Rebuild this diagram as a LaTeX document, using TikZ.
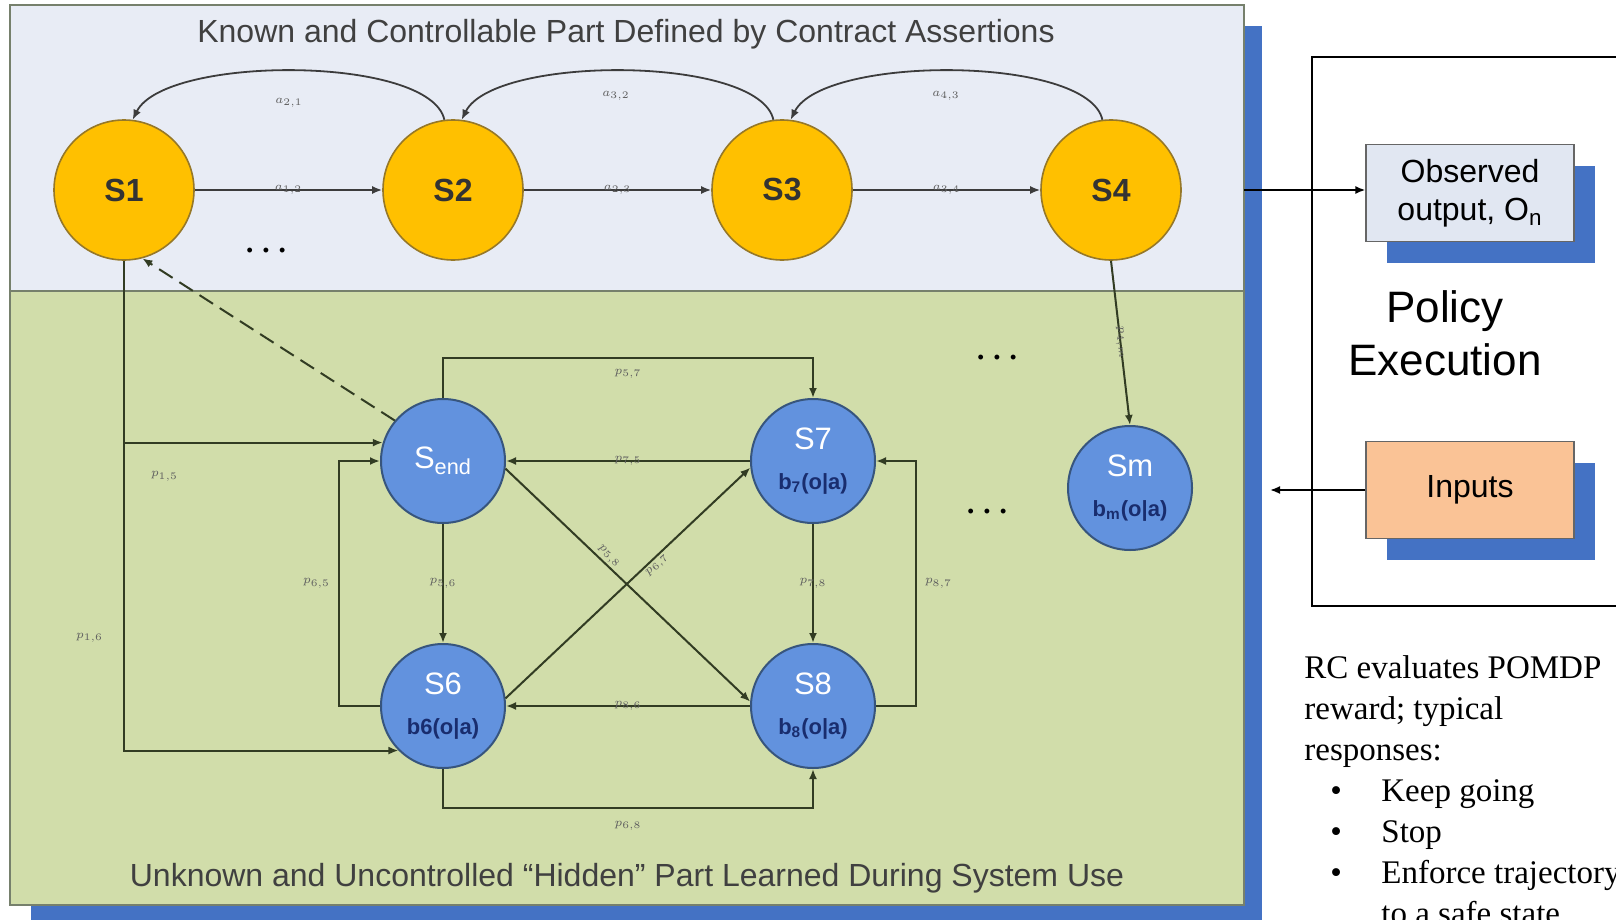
\documentclass[tikz,border=0pt]{standalone}
\usepackage{fontspec}
\setmainfont{Liberation Sans}
\newfontfamily\rcfont{Liberation Serif}
\usetikzlibrary{arrows.meta,positioning,shadows}

\definecolor{knownfill}{RGB}{232,236,245}
\definecolor{hiddenfill}{RGB}{209,221,170}
\definecolor{panelline}{RGB}{118,128,108}
\definecolor{shadowblue}{RGB}{68,114,196}
\definecolor{stateyellow}{RGB}{255,192,0}
\definecolor{yellowline}{RGB}{150,120,40}
\definecolor{stateblue}{RGB}{98,146,222}
\definecolor{blueline}{RGB}{55,85,125}
\definecolor{beliefblue}{RGB}{25,45,110}
\definecolor{arcline}{RGB}{60,60,60}
\definecolor{hiddenline}{RGB}{50,60,35}
\definecolor{obsfill}{RGB}{225,231,242}
\definecolor{inpfill}{RGB}{250,195,150}
\definecolor{lblgray}{RGB}{95,95,95}

\newcommand{\belief}[1]{{\fontsize{11}{11}\selectfont\bfseries\color{beliefblue}#1}}

\begin{document}
\begin{tikzpicture}[x=0.5pt,y=-0.5pt,
  known/.style={circle,draw=yellowline,line width=0.8pt,fill=stateyellow,
    minimum size=70pt,inner sep=0pt,font=\fontsize{16}{16}\selectfont\bfseries,text=black!80},
  hidden/.style={circle,draw=blueline,line width=1pt,fill=stateblue,
    minimum size=62pt,inner sep=0pt,align=center,text=white,font=\fontsize{15.5}{17}\selectfont},
  ktrans/.style={-{Latex[length=5pt,width=4pt]},line width=0.9pt,draw=arcline},
  htrans/.style={-{Latex[length=5pt,width=4pt]},line width=1pt,draw=hiddenline},
  elab/.style={font=\fontsize{6}{6}\selectfont,text=lblgray,inner sep=1pt},
  pbox/.style={draw=gray!80!black,line width=0.6pt,minimum width=104pt,minimum height=48.5pt,
    align=center,font=\fontsize{16}{19}\selectfont,
    drop shadow={shadow xshift=10.5pt,shadow yshift=-10.5pt,fill=shadowblue,opacity=1}},
  dots/.style={font=\fontsize{9}{9}\selectfont,inner sep=0pt},
  rctext/.style={anchor=base west,inner sep=0pt,font=\rcfont\fontsize{16.5}{20}\selectfont}
]
\useasboundingbox (0,0) rectangle (1616,920);
\clip (0,0) rectangle (1616,920);
\fill[white] (0,0) rectangle (1616,920);

% panels
\fill[shadowblue] (31,26) rectangle (1262,925);
\draw[panelline,fill=knownfill,line width=1pt] (10,5) rectangle (1244,291);
\draw[panelline,fill=hiddenfill,line width=1.2pt] (10,291) rectangle (1244,905);
\node[font=\fontsize{16}{16}\selectfont,text=black!75] (ktitle) at (626,34)
  {Known and Controllable Part Defined by Contract Assertions};
\node[font=\fontsize{16}{16}\selectfont,text=black!75] (htitle) at (627,878)
  {Unknown and Uncontrolled ``Hidden'' Part Learned During System Use};

% known states
\node[known] (s1) at (124,190) {S1};
\node[known] (s2) at (453,190) {S2};
\node[known] (s3) at (782,190) {S3};
\node[known] (s4) at (1111,190) {S4};
\draw[ktrans] (s1) -- node[elab] (a12) {\(a_{1,2}\)} (s2);
\draw[ktrans] (s2) -- node[elab] (a23) {\(a_{2,3}\)} (s3);
\draw[ktrans] (s3) -- node[elab] (a34) {\(a_{3,4}\)} (s4);
\draw[ktrans] (s2.97) .. controls (430,55) and (165,55) .. (s1.83);
\draw[ktrans] (s3.97) .. controls (759,55) and (494,55) .. (s2.83);
\draw[ktrans] (s4.97) .. controls (1088,55) and (823,55) .. (s3.83);
\node[elab] (a21) at (289,103) {\(a_{2,1}\)};
\node[elab] (a32) at (616,96) {\(a_{3,2}\)};
\node[elab] (a43) at (946,96) {\(a_{4,3}\)};
\node[dots] (kdots) at (266,252) {\textbullet\hspace{5pt}\textbullet\hspace{5pt}\textbullet};

% hidden states
\node[hidden] (send) at (443,461) {S\textsubscript{end}};
\node[hidden] (s7) at (813,461) {S7\\[3pt]\belief{b\textsubscript{7}(o|a)}};
\node[hidden] (s6) at (443,706) {S6\\[3pt]\belief{b6(o|a)}};
\node[hidden] (s8) at (813,706) {S8\\[3pt]\belief{b\textsubscript{8}(o|a)}};
\node[hidden] (sm) at (1130,488) {Sm\\[3pt]\belief{b\textsubscript{m}(o|a)}};
\node[dots] (hdots1) at (997,359) {\textbullet\hspace{5pt}\textbullet\hspace{5pt}\textbullet};
\node[dots] (hdots2) at (987,513) {\textbullet\hspace{5pt}\textbullet\hspace{5pt}\textbullet};

\draw[htrans] (s1.south) |- node[elab,pos=0.5,below right=13pt and 12pt] (p15) {\(p_{1,5}\)} (send.163);
\draw[htrans] (s1.south) |- node[elab,pos=0.385,left=9pt] (p16) {\(p_{1,6}\)} (s6.225);
\draw[htrans,dash pattern=on 8pt off 4pt] (send.140) -- (s1.285);
\draw[htrans] (send.north) -- ++(0,-40) -| node[elab,pos=0.25,below=4pt] (p57) {\(p_{5,7}\)} (s7.north);
\draw[htrans] (s7.west) -- node[elab] (p75) {\(p_{7,5}\)} (send.east);
\draw[htrans] (send.south) -- node[elab] (p56) {\(p_{5,6}\)} (s6.north);
\draw[htrans] (s7.south) -- node[elab] (p78) {\(p_{7,8}\)} (s8.north);
\draw[htrans] (s8.west) -- node[elab] (p86) {\(p_{8,6}\)} (s6.east);
\draw[htrans] (s6.west) -- ++(-41,0) |- node[elab,pos=0.25,left=3pt] (p65) {\(p_{6,5}\)} (send.west);
\draw[htrans] (s8.east) -- ++(40,0) |- node[elab,pos=0.25,right=3pt] (p87) {\(p_{8,7}\)} (s7.east);
\draw[htrans] (s6.south) -- ++(0,39) -| node[elab,pos=0.25,below=5pt] (p68) {\(p_{6,8}\)} (s8.south);
\draw[htrans] (send.-7) -- node[elab,sloped,pos=0.4,above] (p58) {\(p_{5,8}\)} (s8.176);
\draw[htrans] (s6.7) -- node[elab,sloped,pos=0.6,below] (p67) {\(p_{6,7}\)} (s7.186);
\draw[htrans] (s4.south) -- node[elab,sloped] (p4m) {\(p_{4,m}\)} (sm.north);

% policy side
\draw[line width=1.3pt] (1312,57) rectangle (1640,606);
\node[pbox,fill=obsfill] (obs) at (1470,193) {Observed\\output, O\textsubscript{n}};
\node[pbox,fill=inpfill] (inp) at (1470,490) {Inputs};
\node[font=\fontsize{22}{26.5}\selectfont,align=center] (pexec) at (1445,333) {Policy\\Execution};
\coordinate (pout) at (1244,190);
\coordinate (pin) at (1270,490);
\draw[ktrans,draw=black] (pout) -- (pout -| obs.west);
\draw[ktrans,draw=black] (inp.west) -- (pin);

% RC text
\node[rctext] (rc1) at (1304,678) {RC evaluates POMDP};
\node[rctext] (rc2) at (1304,719) {reward; typical};
\node[rctext] (rc3) at (1304,760) {responses:};
\foreach \y/\txt [count=\i] in {801/Keep going,842/Stop,883/Enforce trajectory}{
  \node[rctext] (bul\i) at (1330,\y) {\textbullet};
  \node[rctext] (item\i) at (1381,\y) {\txt};
}
\node[rctext] (item4) at (1381,924) {to a safe state};
\end{tikzpicture}
\end{document}
